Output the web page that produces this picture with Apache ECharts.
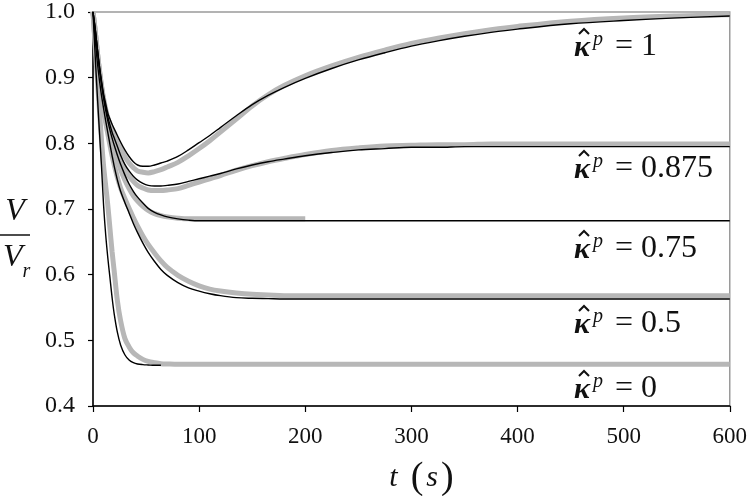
<!DOCTYPE html>
<html>
<head>
<meta charset="utf-8">
<script src="https://cdn.jsdelivr.net/npm/echarts@6/dist/echarts.min.js"></script>
<style>
html,body{margin:0;padding:0;background:#fff;}
#c{width:750px;height:496px;}
</style>
</head>
<body>
<div id="c"></div>
<script>
// time samples (s)
const T = [0,2,4,6,8,10,12,14,16,18,20,23,26,30,34,38,42,47,52,58,64,70,80,90,100,110,120,135,150,165,180,200,225,250,275,300,325,350,375,400,450,500,550,600];

// kappa^p = 1
const k1Black = [1.0,0.975,0.945,0.918,0.895,0.875,0.86,0.846,0.837,0.829,0.822,0.812,0.802,0.79,0.78,0.772,0.767,0.765,0.765,0.767,0.77,0.773,0.78,0.79,0.801,0.812,0.824,0.842,0.859,0.873,0.885,0.899,0.914,0.927,0.938,0.948,0.956,0.963,0.969,0.974,0.982,0.987,0.991,0.994];
const k1Gray  = [1.0,0.972,0.94,0.912,0.888,0.868,0.852,0.839,0.829,0.82,0.813,0.803,0.793,0.78,0.77,0.763,0.758,0.756,0.755,0.757,0.76,0.764,0.771,0.781,0.792,0.804,0.817,0.837,0.857,0.874,0.888,0.903,0.918,0.931,0.942,0.952,0.96,0.967,0.973,0.978,0.986,0.991,0.994,0.996];
// kappa^p = 0.875
const k0875Black = [1.0,0.975,0.945,0.918,0.893,0.872,0.855,0.84,0.828,0.817,0.808,0.795,0.782,0.768,0.758,0.75,0.744,0.739,0.736,0.735,0.735,0.736,0.738,0.742,0.746,0.75,0.754,0.761,0.767,0.772,0.776,0.781,0.786,0.79,0.792,0.794,0.794,0.795,0.795,0.795,0.795,0.795,0.795,0.795];
const k0875Gray  = [1.0,0.972,0.94,0.912,0.887,0.865,0.848,0.833,0.82,0.81,0.8,0.787,0.775,0.761,0.75,0.742,0.736,0.732,0.729,0.728,0.728,0.729,0.731,0.736,0.741,0.746,0.751,0.759,0.766,0.772,0.777,0.783,0.789,0.793,0.796,0.797,0.798,0.798,0.799,0.799,0.799,0.799,0.799,0.799];
// kappa^p = 0.75
const k075Black = [1.0,0.975,0.945,0.915,0.89,0.868,0.85,0.834,0.82,0.808,0.797,0.782,0.768,0.752,0.738,0.727,0.718,0.709,0.701,0.695,0.691,0.688,0.685,0.683,0.682,0.682,0.682,0.682,0.682,0.682,0.682,0.682,0.682,0.682,0.682,0.682,0.682,0.682,0.682,0.682,0.682,0.682,0.682,0.682];
const k075Gray  = [1.0,0.972,0.94,0.91,0.884,0.861,0.842,0.826,0.812,0.8,0.789,0.774,0.76,0.744,0.731,0.72,0.712,0.704,0.698,0.693,0.69,0.688,0.686,0.685,0.685,0.685,0.685,0.685,0.685,0.685,0.685,0.685,null,null,null,null,null,null,null,null,null,null,null,null];
// kappa^p = 0.5
const k05Black = [1.0,0.96,0.925,0.897,0.873,0.853,0.834,0.816,0.798,0.781,0.765,0.744,0.727,0.71,0.694,0.678,0.664,0.648,0.634,0.62,0.608,0.599,0.588,0.58,0.575,0.571,0.568,0.565,0.564,0.5635,0.563,0.563,0.563,0.563,0.563,0.563,0.563,0.563,0.563,0.563,0.563,0.563,0.563,0.563];
const k05Gray  = [1.0,0.955,0.92,0.892,0.868,0.849,0.831,0.814,0.797,0.781,0.767,0.748,0.732,0.716,0.701,0.687,0.674,0.659,0.646,0.633,0.621,0.611,0.599,0.59,0.583,0.578,0.575,0.572,0.57,0.569,0.568,0.568,0.568,0.568,0.568,0.568,0.568,0.568,0.568,0.568,0.568,0.568,0.568,0.568];
// kappa^p = 0
const k0Black = [1.0,0.935,0.875,0.82,0.765,0.705,0.66,0.625,0.595,0.565,0.54,0.512,0.493,0.478,0.47,0.466,0.464,0.463,0.4625,0.462,0.462,null,null,null,null,null,null,null,null,null,null,null,null,null,null,null,null,null,null,null,null,null,null,null];
const k0Gray  = [1.0,0.95,0.9,0.852,0.805,0.765,0.735,0.705,0.67,0.635,0.605,0.56,0.53,0.503,0.49,0.481,0.476,0.471,0.468,0.466,0.4645,0.464,0.4635,0.4635,0.4635,0.4635,0.4635,0.4635,0.4635,0.4635,0.4635,0.4635,0.4635,0.4635,0.4635,0.4635,0.4635,0.4635,0.4635,0.4635,0.4635,0.4635,0.4635,0.4635];

const xTicks = [0,100,200,300,400,500,600];
const yTicks = [0.4,0.5,0.6,0.7,0.8,0.9,1.0];
const curveLabels = ['1','0.875','0.75','0.5','0'];

const SERIF = 'Liberation Serif';
const GRAY = '#b7b7b7';

function pts(arr){ return T.map((t,i)=>[t, arr[i]]).filter(p=>p[1]!==null); }

const grays = [k1Gray,k0875Gray,k075Gray,k05Gray,k0Gray];
const blacks = [k1Black,k0875Black,k075Black,k05Black,k0Black];
const series = [];
grays.forEach((g)=>series.push({type:'line',data:pts(g),showSymbol:false,smooth:0.35,z:2,
  lineStyle:{color:GRAY,width:5,cap:'butt'},silent:true}));
blacks.forEach((b)=>series.push({type:'line',data:pts(b),showSymbol:false,smooth:0.35,z:3,
  lineStyle:{color:'#000',width:1.4},silent:true}));

const chart = echarts.init(document.getElementById('c'),null,{renderer:'canvas'});

const labelY = [45,167,247,322,387];
const labelGraphics = [];
curveLabels.forEach((v,i)=>{
  labelGraphics.push({
    type:'text', x:574, y:labelY[i], z:100,
    style:{
      text:'{k|κ}{p|p}{e|= '+v+'}',
      verticalAlign:'middle', align:'left',
      rich:{
        k:{fontFamily:SERIF,fontSize:30,fontStyle:'italic',fontWeight:'bold',fill:'#111',verticalAlign:'bottom',lineHeight:36},
        p:{fontFamily:SERIF,fontSize:20,fontStyle:'italic',fill:'#111',verticalAlign:'top',lineHeight:36,padding:[3,12,0,3]},
        e:{fontFamily:SERIF,fontSize:32,fill:'#111',verticalAlign:'bottom',lineHeight:36}
      }
    }
  });
  labelGraphics.push({
    type:'polyline', z:100,
    shape:{points:[[579,labelY[i]-11],[584,labelY[i]-16],[589,labelY[i]-11]]},
    style:{stroke:'#111',lineWidth:2,fill:null}
  });
});

chart.setOption({
  animation:false,
  backgroundColor:'#fff',
  grid:{left:93,right:18,top:7,bottom:90,show:true,borderColor:'#9a9a9a',borderWidth:1.5,backgroundColor:'transparent'},
  xAxis:{type:'value',min:0,max:600,interval:100,
    axisLine:{show:true,onZero:false,lineStyle:{color:'#000',width:1.5}},
    axisTick:{show:true,inside:false,length:6,lineStyle:{color:'#000',width:1.2}},
    splitLine:{show:false},
    axisLabel:{color:'#111',fontFamily:SERIF,fontSize:23,margin:19,
      formatter:(v)=> xTicks.includes(v)? String(v):''}
  },
  yAxis:{type:'value',min:0.4,max:1.0,interval:0.1,
    axisLine:{show:true,onZero:false,lineStyle:{color:'#000',width:1.5}},
    axisTick:{show:true,inside:false,length:5,lineStyle:{color:'#000',width:1.2}},
    splitLine:{show:false},
    axisLabel:{color:'#111',fontFamily:SERIF,fontSize:24,margin:18,showMinLabel:true,showMaxLabel:true,padding:[6,0,0,0],
      formatter:(v)=>{const r=Math.round(v*10)/10; return yTicks.some(t=>Math.abs(t-r)<1e-9)? r.toFixed(1):'';}}
  },
  series:series,
  graphic:[
    ...labelGraphics,
    {type:'text',x:15,y:212,style:{text:'V',fontFamily:SERIF,fontSize:32,fontStyle:'italic',fill:'#111',align:'center',verticalAlign:'middle'}},
    {type:'line',shape:{x1:0,y1:235,x2:30,y2:235},style:{stroke:'#111',lineWidth:1.5}},
    {type:'text',x:3,y:259,style:{text:'{v|V}{r|r}',verticalAlign:'middle',align:'left',
      rich:{v:{fontFamily:SERIF,fontSize:32,fontStyle:'italic',fill:'#111',verticalAlign:'top',lineHeight:34},
            r:{fontFamily:SERIF,fontSize:20,fontStyle:'italic',fill:'#111',verticalAlign:'bottom',lineHeight:34,padding:[0,0,-6,0]}}}},
    {type:'text',x:423,y:478,style:{text:'{t|t}{par|(}{s|s}{par|)}',align:'center',verticalAlign:'middle',
      rich:{t:{fontFamily:SERIF,fontSize:30,fontStyle:'italic',fill:'#111',padding:[0,10,0,0]},
            par:{fontFamily:SERIF,fontSize:38,fill:'#111',padding:[0,3,0,3]},
            s:{fontFamily:SERIF,fontSize:30,fontStyle:'italic',fill:'#111'}}}}
  ]
});
</script>
</body>
</html>
